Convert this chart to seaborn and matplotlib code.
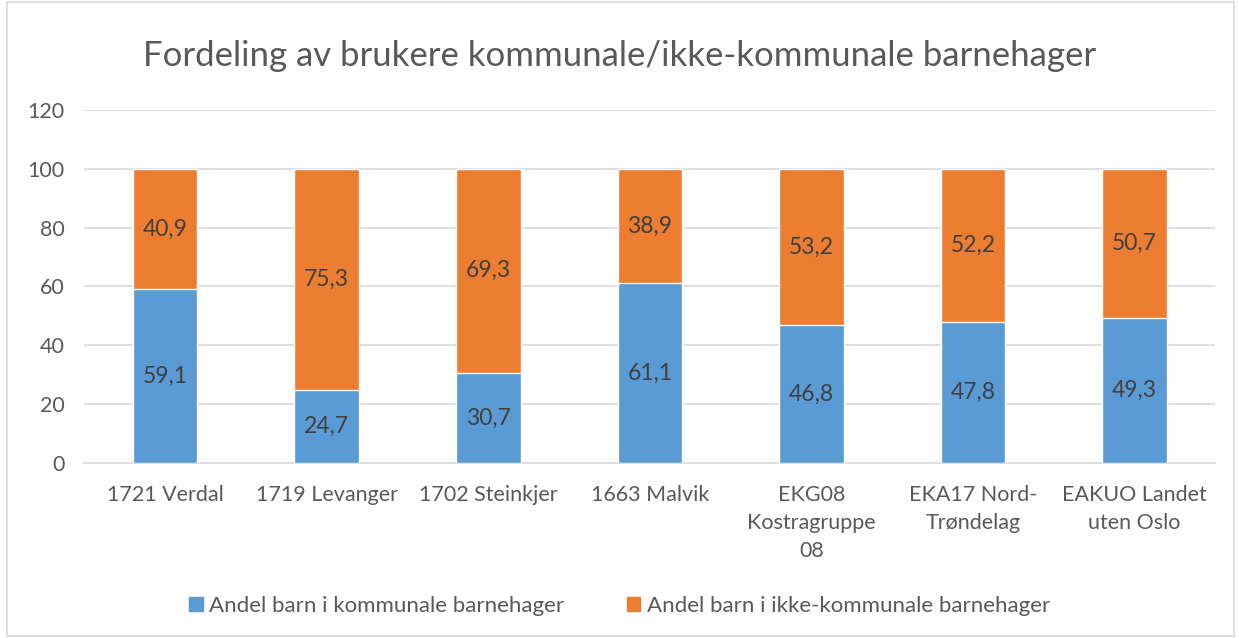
import pandas as pd
import seaborn as sns
import matplotlib.pyplot as plt
from matplotlib.patches import Rectangle, Patch

# Data
categories = ["1721 Verdal", "1719 Levanger", "1702 Steinkjer", "1663 Malvik",
              "EKG08\nKostragruppe\n08", "EKA17 Nord-\nTrøndelag", "EAKUO Landet\nuten Oslo"]
kommunale = [59.1, 24.7, 30.7, 61.1, 46.8, 47.8, 49.3]
ikke_kommunale = [40.9, 75.3, 69.3, 38.9, 53.2, 52.2, 50.7]

blue = "#5B9BD5"
orange = "#ED7D31"
text_color = "#595959"

df = pd.DataFrame({"kategori": categories, "kommunale": kommunale, "ikke": ikke_kommunale})
df["total"] = df["kommunale"] + df["ikke"]

sns.set_style("white")
plt.rcParams['font.family'] = ['Lato', 'DejaVu Sans']

fig = plt.figure(figsize=(12.39, 6.38), dpi=100)
ax = fig.add_axes([0.068, 0.274, 0.913, 0.554])

# stacked bars: orange drawn to the total, blue drawn on top of it
sns.barplot(data=df, x="kategori", y="total", color=orange, width=0.4,
            saturation=1, ax=ax, zorder=2)
sns.barplot(data=df, x="kategori", y="kommunale", color=blue, width=0.4,
            saturation=1, ax=ax, zorder=3)

for i, (k, o) in enumerate(zip(kommunale, ikke_kommunale)):
    ax.text(i, k / 2, f"{k:.1f}".replace(".", ","), ha="center", va="center",
            fontsize=16.5, color="#404040", zorder=4)
    ax.text(i, k + o / 2, f"{o:.1f}".replace(".", ","), ha="center", va="center",
            fontsize=16.5, color="#404040", zorder=4)

ax.set_ylim(0, 120)
ax.set_yticks(range(0, 121, 20))
ax.set_xlim(-0.5, len(categories) - 0.5)
ax.yaxis.grid(True, color="#D9D9D9", linewidth=1.2, zorder=0)
ax.set_axisbelow(True)
for s in ["top", "right", "left"]:
    ax.spines[s].set_visible(False)
ax.spines["bottom"].set_color("#D9D9D9")
ax.spines["bottom"].set_linewidth(1.2)
ax.tick_params(axis="both", length=0, labelsize=15.5, colors=text_color, pad=16)
ax.tick_params(axis="y", pad=14)
ax.set_xlabel("")
ax.set_ylabel("")
for lab in ax.get_xticklabels():
    lab.set_linespacing(1.5)
    lab.set_va("top")

fig.text(0.5, 0.913, "Fordeling av brukere kommunale/ikke-kommunale barnehager",
         ha="center", va="center", fontsize=25, color=text_color)

handles = [Patch(color=blue, label="Andel barn i kommunale barnehager"),
           Patch(color=orange, label="Andel barn i ikke-kommunale barnehager")]
fig.legend(handles=handles, loc="center", bbox_to_anchor=(0.5, 0.05), ncol=2,
           frameon=False, fontsize=16, labelcolor=text_color,
           handlelength=0.6, handleheight=0.6, handletextpad=0.3, columnspacing=2.8)

fig.patches.append(Rectangle((0.006, 0.003), 0.99, 0.994, transform=fig.transFigure,
                             fill=False, edgecolor="#D9D9D9", linewidth=1.2))

fig.savefig("out.png", dpi=100)
